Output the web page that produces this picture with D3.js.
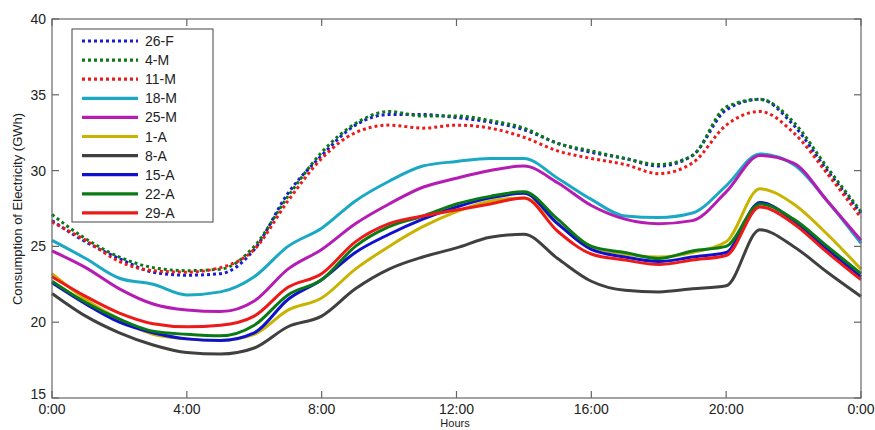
<!DOCTYPE html>
<html><head><meta charset="utf-8">
<script src="https://cdn.jsdelivr.net/npm/d3@7"></script>
<style>body{margin:0;background:#fff}text{font-family:Arial,"Liberation Sans",sans-serif}</style>
</head><body><svg id="c" width="875" height="430"></svg>
<script>
const hours = d3.range(0, 25);
const names = ["26-F","4-M","11-M","18-M","25-M","1-A","8-A","15-A","22-A","29-A"];
const colors = ["#1a1ad8","#0a7a14","#ee1a1a","#1aa8c4","#b41cb4","#c8b400","#404040","#1010d0","#0a7a14","#ee1a1a"];
const dotted = [true,true,true,false,false,false,false,false,false,false];
const s26F = [26.7,25.3,24.2,23.3,23.1,23.2,24.8,28.5,31.0,33.0,33.7,33.7,33.5,33.2,32.7,31.8,31.2,30.8,30.3,31.0,34.0,34.7,33.0,30.0,27.2];
const s4M  = [27.1,25.5,24.3,23.6,23.4,23.5,25.0,28.3,31.2,33.1,33.9,33.6,33.6,33.3,32.8,31.8,31.3,30.8,30.4,31.0,34.2,34.7,33.2,30.2,27.3];
const s11M = [26.6,25.4,24.0,23.4,23.3,23.6,24.8,28.0,30.8,32.5,33.0,32.8,33.0,32.8,32.2,31.3,30.8,30.4,29.8,30.5,33.0,33.9,32.5,29.8,26.9];
const s18M = [25.4,24.2,22.9,22.5,21.8,22.0,23.0,25.0,26.2,28.0,29.3,30.3,30.6,30.8,30.8,29.5,28.1,27.0,26.9,27.2,29.0,31.1,30.4,28.0,25.2];
const s25M = [24.7,23.6,22.2,21.2,20.8,20.7,21.4,23.5,24.8,26.5,27.8,28.9,29.5,30.0,30.3,29.2,27.7,26.8,26.5,26.7,28.6,31.0,30.5,28.0,25.4];
const s1A  = [23.2,21.5,20.2,19.2,18.9,18.8,19.2,20.8,21.6,23.5,25.0,26.3,27.3,28.0,28.2,26.5,25.0,24.5,24.3,24.6,25.3,28.8,27.8,25.8,23.5];
const s8A  = [21.9,20.4,19.3,18.5,18.0,17.9,18.3,19.7,20.4,22.2,23.5,24.3,24.9,25.6,25.8,24.2,22.7,22.1,22.0,22.2,22.4,26.1,25.0,23.3,21.7];
const s15A = [22.6,21.2,20.0,19.3,18.9,18.8,19.3,21.5,22.8,24.6,25.8,26.8,27.6,28.2,28.5,26.5,24.8,24.3,24.0,24.3,24.6,27.9,26.7,24.8,23.0];
const s22A = [22.7,21.3,20.2,19.4,19.2,19.1,19.8,21.8,22.8,25.0,26.3,27.0,27.8,28.3,28.6,26.8,25.0,24.6,24.2,24.7,25.0,27.8,26.8,25.0,23.2];
const s29A = [23.0,21.7,20.6,19.9,19.7,19.8,20.4,22.3,23.2,25.3,26.5,27.0,27.4,27.8,28.2,26.0,24.5,24.1,23.8,24.1,24.4,27.6,26.5,24.6,22.8];
const series = [s26F,s4M,s11M,s18M,s25M,s1A,s8A,s15A,s22A,s29A];
const xTicks = [0,4,8,12,16,20,24];
const xTickLabels = ["0:00","4:00","8:00","12:00","16:00","20:00","0:00"];
const yTicks = [15,20,25,30,35,40];

const svg = d3.select("#c");
const L=52,R=861,T=19,B=398;
const x = d3.scaleLinear().domain([0,24]).range([L,R]);
const y = d3.scaleLinear().domain([15,40]).range([B,T]);
const line = d3.line().x((d,i)=>x(hours[i])).y(d=>y(d)).curve(d3.curveMonotoneX);

const g = svg.append("g");
series.forEach((s,k)=>{
  g.append("path").attr("d",line(s)).attr("fill","none").attr("stroke",colors[k])
   .attr("stroke-width",3).attr("stroke-dasharray",dotted[k]?"3,3":null);
});
const ax = svg.append("g").attr("stroke","#666").attr("stroke-width",1.2);
ax.append("rect").attr("x",L).attr("y",T).attr("width",R-L).attr("height",B-T).attr("fill","none");
xTicks.forEach(t=>{
  ax.append("line").attr("x1",x(t)).attr("x2",x(t)).attr("y1",B).attr("y2",B-7);
  ax.append("line").attr("x1",x(t)).attr("x2",x(t)).attr("y1",T).attr("y2",T+7);
});
yTicks.forEach(t=>{
  ax.append("line").attr("x1",L).attr("x2",L+7).attr("y1",y(t)).attr("y2",y(t));
  ax.append("line").attr("x1",R).attr("x2",R-7).attr("y1",y(t)).attr("y2",y(t));
});
xTicks.forEach((t,i)=>svg.append("text").attr("x",x(t)).attr("y",414).attr("text-anchor","middle")
  .attr("font-size",14).attr("fill","#222").text(xTickLabels[i]));
yTicks.forEach(t=>svg.append("text").attr("x",46).attr("y",y(t)+(t===15?1:5)).attr("text-anchor","end")
  .attr("font-size",14).attr("fill","#222").text(t));
svg.append("text").attr("x",455).attr("y",427).attr("text-anchor","middle").attr("font-size",11).attr("fill","#222").text("Hours");
svg.append("text").attr("transform","translate(22,209) rotate(-90)").attr("text-anchor","middle")
  .attr("font-size",13).attr("fill","#222").text("Consumption of Electricity (GWh)");
const lg = svg.append("g");
lg.append("rect").attr("x",72).attr("y",29).attr("width",141).attr("height",193).attr("fill","#fff").attr("stroke","#444").attr("stroke-width",1);
names.forEach((n,k)=>{
  const yy = 41 + k*19.1;
  lg.append("line").attr("x1",82).attr("x2",138).attr("y1",yy).attr("y2",yy).attr("stroke",colors[k])
    .attr("stroke-width",3.2).attr("stroke-dasharray",dotted[k]?"3,3":null);
  lg.append("text").attr("x",145).attr("y",yy+5).attr("font-size",14).attr("fill","#222").text(n);
});
</script></body></html>
